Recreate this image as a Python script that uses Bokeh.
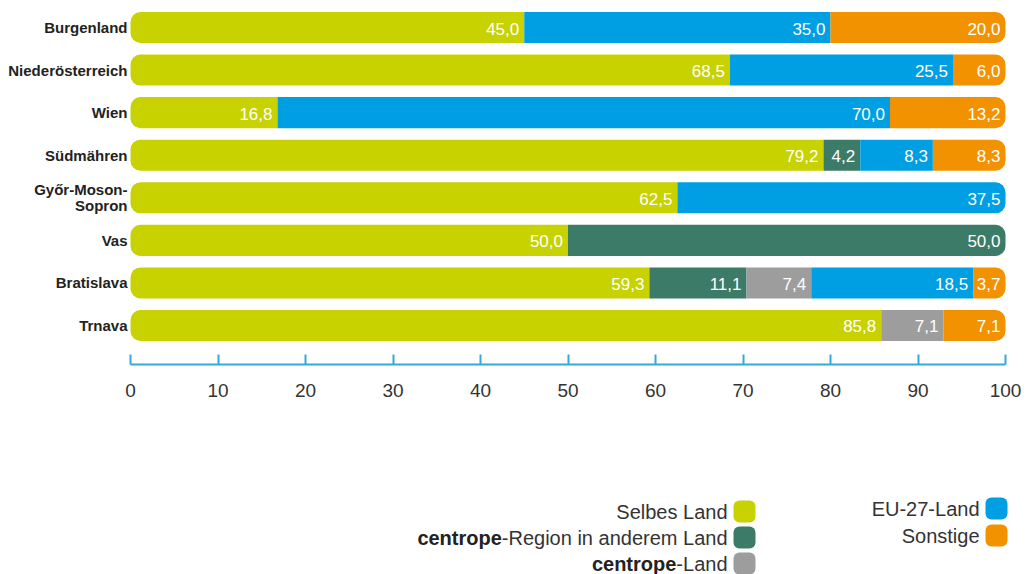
from bokeh.plotting import figure
from bokeh.models import Range1d, FixedTicker, ColumnDataSource
from bokeh.embed import file_html
from bokeh.resources import INLINE
from bokeh.core.properties import value

# ---------------- data ----------------
regions = ["Burgenland", "Niederösterreich", "Wien", "Südmähren",
           "Győr-Moson-\nSopron", "Vas", "Bratislava", "Trnava"]
selbes_land = [45.0, 68.5, 16.8, 79.2, 62.5, 50.0, 59.3, 85.8]
centrope_region = [0.0, 0.0, 0.0, 4.2, 0.0, 50.0, 11.1, 0.0]
centrope_land = [0.0, 0.0, 0.0, 0.0, 0.0, 0.0, 7.4, 7.1]
eu27_land = [35.0, 25.5, 70.0, 8.3, 37.5, 0.0, 18.5, 0.0]
sonstige = [20.0, 6.0, 13.2, 8.3, 0.0, 0.0, 3.7, 7.1]
x_ticks = [0, 10, 20, 30, 40, 50, 60, 70, 80, 90, 100]

series = [selbes_land, centrope_region, centrope_land, eu27_land, sonstige]
colors = ["#c8d200", "#3d7b69", "#9d9d9d", "#009fe3", "#f39200"]

legend_bold = ["", "centrope", "centrope", "", ""]
legend_rest = ["Selbes Land", "-Region in anderem Land", "-Land", "EU-27-Land", "Sonstige"]

FONT = "Liberation Sans"
W, H = 1033, 574

# ---------------- geometry (layout only) ----------------
ZERO_PX = 130       # x = 0 at 130px, x = 100 at 1005px
FRAME_LEFT = 116    # frame starts a bit left so the "0" label is not clipped
PX_PER_UNIT = 8.75
ROW_PX = 42.57
ROW0_PX = 27
AXIS_PX = 364

def xd(px):
    return (px - ZERO_PX) / PX_PER_UNIT

def yd(py):
    return (py - ROW0_PX) / ROW_PX

p = figure(width=W, height=H, output_backend="svg", toolbar_location=None,
           x_range=Range1d(xd(FRAME_LEFT), xd(W)), y_range=Range1d(yd(H), yd(0)),
           min_border_left=FRAME_LEFT, min_border_right=0, min_border_top=0,
           min_border_bottom=0)
p.outline_line_color = None
p.grid.visible = False
p.background_fill_color = "white"
p.border_fill_color = "white"

groups = {"first": dict(y=[], left=[], right=[], color=[]),
          "mid": dict(y=[], left=[], right=[], color=[]),
          "last": dict(y=[], left=[], right=[], color=[])}
labels = dict(x=[], y=[], text=[])
for i in range(len(regions)):
    segs = [(s[i], colors[k]) for k, s in enumerate(series) if s[i] > 0]
    acc = 0.0
    for j, (v, c) in enumerate(segs):
        if j == 0:
            g = "first"
        elif j == len(segs) - 1:
            g = "last"
        else:
            g = "mid"
        groups[g]["y"].append(i)
        groups[g]["left"].append(acc)
        groups[g]["right"].append(acc + v)
        groups[g]["color"].append(c)
        labels["x"].append(acc + v)
        labels["y"].append(i)
        labels["text"].append(f"{v:.1f}".replace(".", ","))
        acc += v

radii = {"first": (10, 0, 0, 10), "mid": 0, "last": (0, 10, 10, 0)}
for g, d in groups.items():
    p.hbar(y="y", left="left", right="right", height=0.73, fill_color="color",
           line_color=None, border_radius=radii[g], source=ColumnDataSource(d))

p.text(x="x", y="y", text="text", source=ColumnDataSource(labels),
       text_align="right", text_baseline="middle", x_offset=-5, y_offset=1,
       text_color="white", text_font=value(FONT), text_font_size="17px")

# x axis, fixed inside the frame
xa = p.xaxis[0]
xa.fixed_location = yd(AXIS_PX)
xa.bounds = (0, 100)
xa.ticker = FixedTicker(ticks=x_ticks)
xa.minor_tick_line_color = None
xa.axis_line_color = "#35a8de"
xa.axis_line_width = 2
xa.major_tick_line_color = "#35a8de"
xa.major_tick_line_width = 2
xa.major_tick_in = 10
xa.major_tick_out = 0
xa.major_label_standoff = 19
xa.major_label_text_font = FONT
xa.major_label_text_font_size = "19px"
xa.major_label_text_color = "#333333"

# y axis (labels pulled right so they end just before the bars)
ya = p.yaxis[0]
ya.ticker = FixedTicker(ticks=list(range(len(regions))))
ya.major_label_overrides = {i: r for i, r in enumerate(regions)}
ya.axis_line_color = None
ya.major_tick_line_color = None
ya.minor_tick_line_color = None
ya.major_tick_out = 0
ya.major_tick_in = 0
ya.major_label_standoff = FRAME_LEFT - (ZERO_PX - 3)
ya.major_label_text_font = FONT
ya.major_label_text_font_size = "15px"
ya.major_label_text_font_style = "bold"
ya.major_label_text_color = "#222222"
ya.major_label_text_line_height = 0.95

# ---------------- legend ----------------
arial = {" ": 278, "-": 333, "2": 556, "7": 556, "E": 667, "L": 556, "R": 722,
         "S": 667, "U": 722, "a": 556, "b": 556, "d": 556, "e": 556, "g": 556,
         "i": 222, "l": 222, "m": 833, "n": 556, "o": 556, "r": 333, "s": 500,
         "t": 278}
LFS = 20

def text_w_px(s):
    return sum(arial.get(ch, 556) for ch in s) * LFS / 1000.0

slot_text_px = [727, 727, 727, 979, 979]
slot_y_px = [511, 537, 563, 508, 535]
SW = 22

lg_src = ColumnDataSource(dict(
    left=[xd(x + 6) for x in slot_text_px],
    right=[xd(x + 6 + SW) for x in slot_text_px],
    top=[yd(y - SW / 2) for y in slot_y_px],
    bottom=[yd(y + SW / 2) for y in slot_y_px],
    color=colors))
p.quad(left="left", right="right", top="top", bottom="bottom", fill_color="color",
       line_color=None, border_radius=6, source=lg_src)

p.text(x=[xd(x) for x in slot_text_px], y=[yd(y) for y in slot_y_px],
       text=legend_rest, text_align="right", text_baseline="middle",
       text_font=value(FONT), text_font_size=f"{LFS}px", text_color="#333333")
idx = [k for k in range(len(legend_bold)) if legend_bold[k]]
p.text(x=[xd(slot_text_px[k] - text_w_px(legend_rest[k])) for k in idx],
       y=[yd(slot_y_px[k]) for k in idx], text=[legend_bold[k] for k in idx],
       text_align="right", text_baseline="middle", text_font=value(FONT),
       text_font_size=f"{LFS}px", text_font_style="bold", text_color="#222222")

open("out.html", "w").write(file_html(p, INLINE))
